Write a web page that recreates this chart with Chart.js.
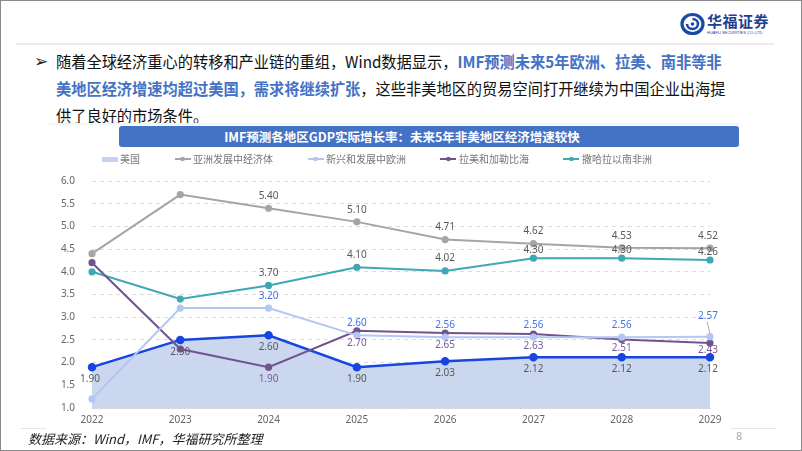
<!DOCTYPE html>
<html>
<head>
<meta charset="utf-8">
<script src="https://cdn.jsdelivr.net/npm/chart.js@4.4.1/dist/chart.umd.min.js"></script>
<style>
  html, body { margin: 0; padding: 0; background: #fff; }
  #page { position: relative; width: 802px; height: 451px; box-sizing: border-box; border: 1px solid #8a8a8a; overflow: hidden;
          font-family: "Noto Sans CJK SC", "Noto Sans", sans-serif; }
  .abs { position: absolute; }
  #rule { left: 15px; top: 42px; width: 758px; height: 2px; background: #ececec; }
  #bullet { left: 33px; top: 47px; font: 17px "DejaVu Sans"; line-height: 27px; color: #222; }
  #para { left: 55px; top: 47px; font-size: 16px; line-height: 27px; color: #111; white-space: nowrap;
          transform: scaleX(0.951); transform-origin: 0 0; }
  #para b { color: #4472c4; font-weight: bold; }
  #bar { left: 118px; top: 125px; width: 620px; height: 21px; background: #4472c4; border-radius: 3px; }
  #barText { left: 0; top: 125px; width: 802px; height: 21px; line-height: 21px; text-align: center; color: #fff; font-size: 12.5px; font-weight: bold; }
  #band { left: 48px; top: 122px; width: 690px; height: 2px; background: #eaf7fb; }
  #foot { left: 27px; top: 428px; font-size: 13px; font-style: italic; color: #222; }
  #pageNo { left: 735px; top: 427px; font: 11px "Noto Sans"; color: #aaa; }
  #footRuleL { left: 20px; top: 427px; width: 25px; height: 1px; background: #e6e6e6; }
  #footRuleR { left: 730px; top: 427px; width: 45px; height: 1px; background: #e6e6e6; }
  #logoText { left: 706px; top: 9px; font: bold 15px "Noto Sans CJK SC"; color: #1f3f8f; letter-spacing: 0.5px; }
  #logoSub { left: 706px; top: 29px; font: 4px "Liberation Sans"; color: #1f3f8f; white-space: nowrap; }
  #wrap { left: 45px; top: 110px; width: 712px; height: 320px; }
</style>
</head>
<body>
<div id="page">
  <svg class="abs" style="left:679px;top:11px" width="25" height="24" viewBox="0 0 25 24">
    <ellipse cx="12.5" cy="12" rx="10.5" ry="9.5" fill="none" stroke="#1a4aa8" stroke-width="3.2"/>
    <path d="M7 12 a5.5 5 0 1 0 5.5 -5" fill="none" stroke="#1a4aa8" stroke-width="2.6"/>
    <circle cx="12.5" cy="12" r="1.8" fill="#1a4aa8"/>
  </svg>
  <div id="logoText" class="abs">华福证券</div>
  <div id="logoSub" class="abs">HUAFU SECURITIES CO.,LTD</div>
  <div id="rule" class="abs"></div>
  <div id="bullet" class="abs">➢</div>
  <div id="para" class="abs">随着全球经济重心的转移和产业链的重组，Wind数据显示，<b>IMF预测未来5年欧洲、拉美、南非等非</b><br><b>美地区经济增速均超过美国，需求将继续扩张</b>，这些非美地区的贸易空间打开继续为中国企业出海提<br>供了良好的市场条件。</div>
  <div id="band" class="abs"></div>
  <div id="bar" class="abs"></div>
  <div id="barText" class="abs">IMF预测各地区GDP实际增长率：未来5年非美地区经济增速较快</div>
  <div id="footRuleL" class="abs"></div>
  <div id="footRuleR" class="abs"></div>
  <div id="wrap" class="abs"><canvas id="chart"></canvas></div>
  <div id="foot" class="abs">数据来源：Wind，IMF，华福研究所整理</div>
  <div id="pageNo" class="abs">8</div>
</div>
<script>
const years = ['2022', '2023', '2024', '2025', '2026', '2027', '2028', '2029'];

const usa      = [1.90, 2.50, 2.60, 1.90, 2.03, 2.12, 2.12, 2.12];
const asiaDev  = [4.40, 5.70, 5.40, 5.10, 4.71, 4.62, 4.53, 4.52];
const emEurope = [1.20, 3.20, 3.20, 2.60, 2.56, 2.56, 2.56, 2.57];
const latam    = [4.20, 2.30, 1.90, 2.70, 2.65, 2.63, 2.51, 2.43];
const ssAfrica = [4.00, 3.40, 3.70, 4.10, 4.02, 4.30, 4.30, 4.26];

// which points carry a value label in the original
const usaShown      = [1, 1, 1, 1, 1, 1, 1, 1];
const asiaShown     = [0, 0, 1, 1, 1, 1, 1, 1];
const europeShown   = [0, 0, 1, 1, 1, 1, 1, 1];
const latamShown    = [0, 0, 1, 1, 1, 1, 1, 1];
const africaShown   = [0, 0, 1, 1, 1, 1, 1, 1];

const yMin = 1.0, yMax = 6.0, yStep = 0.5;

// label placement (pixels from the point; negative = above)
const labelShift = {
  usa:    { dy: 12 },
  asia:   { dy: -12 },
  europe: { dy: -12, at: { 7: -21 } },
  latam:  { dy: 12, at: { 6: 9, 7: 7 } },
  africa: { dy: -12, at: { 4: -13, 5: -8, 6: -8, 7: -8 } }
};

function icon(color, kind) {
  const c = document.createElement('canvas');
  c.width = 16; c.height = 8;
  const g = c.getContext('2d');
  if (kind === 'box') {
    g.fillStyle = color;
    g.fillRect(0, 2, 16, 5);
  } else {
    g.strokeStyle = color; g.lineWidth = 2;
    g.beginPath(); g.moveTo(0, 4); g.lineTo(16, 4); g.stroke();
    g.fillStyle = color;
    g.beginPath(); g.arc(8, 4, 2.3, 0, Math.PI * 2); g.fill();
  }
  return c;
}

const valueLabels = {
  id: 'valueLabels',
  afterDatasetsDraw(chart) {
    const ctx = chart.ctx;
    ctx.save();
    ctx.font = '10px "Noto Sans"';
    ctx.textAlign = 'center';
    ctx.textBaseline = 'middle';
    chart.data.datasets.forEach((ds, i) => {
      const meta = chart.getDatasetMeta(i);
      const shift = labelShift[ds.key];
      meta.data.forEach((pt, j) => {
        if (!ds.shown[j]) return;
        const dy = (shift.at && shift.at[j] != null) ? shift.at[j] : shift.dy;
        let x = pt.x;
        if (j === 0) x -= 2;
        if (j === years.length - 1) x -= 2;
        if (Math.abs(dy) > 15) {
          ctx.strokeStyle = '#999'; ctx.lineWidth = 0.8;
          ctx.beginPath(); ctx.moveTo(x - 1, pt.y + dy + 6); ctx.lineTo(pt.x, pt.y - 3); ctx.stroke();
        }
        ctx.fillStyle = ds.labelColor;
        ctx.fillText(ds.data[j].toFixed(2), x, pt.y + dy);
      });
    });
    ctx.restore();
  }
};

const legendGap = {
  id: 'legendGap',
  beforeInit(chart) {
    const fit = chart.legend.fit;
    chart.legend.fit = function () { fit.call(this); this.height += 7; };
  }
};

const line = (key, label, data, color, shown, labelColor) => ({
  key, label, data, shown, labelColor,
  borderColor: color, backgroundColor: color,
  pointBackgroundColor: color, pointBorderColor: color,
  borderWidth: 2, pointRadius: 2.6, tension: 0, fill: false, order: 0,
  legendIcon: icon(color, 'line')
});

new Chart(document.getElementById('chart'), {
  type: 'line',
  data: {
    labels: years,
    datasets: [
      {
        key: 'usa', label: '美国', data: usa, shown: usaShown, labelColor: '#595959',
        borderColor: '#1745e0', backgroundColor: '#cbd7ee', pointBackgroundColor: '#1745e0', pointBorderColor: '#1745e0',
        borderWidth: 2.5, pointRadius: 3, fill: 'start', order: 1,
        legendIcon: icon('#c6d3ee', 'box')
      },
      line('asia', '亚洲发展中经济体', asiaDev, '#a5a5a5', asiaShown, '#595959'),
      line('europe', '新兴和发展中欧洲', emEurope, '#b4c6f2', europeShown, '#4472e0'),
      line('latam', '拉美和加勒比海', latam, '#71548f', latamShown, '#7b5a9e'),
      line('africa', '撒哈拉以南非洲', ssAfrica, '#3ea8b4', africaShown, '#595959')
    ]
  },
  options: {
    responsive: true,
    maintainAspectRatio: false,
    animation: false,
    layout: { padding: { top: 6, left: 0, right: 48, bottom: 0 } },
    plugins: {
      tooltip: { enabled: false },
      legend: {
        position: 'top',
        labels: {
          usePointStyle: true,
          pointStyleWidth: 11,
          padding: 37,
          color: '#777',
          font: { size: 10, family: '"Noto Sans CJK SC"' },
          generateLabels: chart => chart.data.datasets.map((ds, i) => ({
            text: ds.label,
            pointStyle: ds.legendIcon,
            fillStyle: 'transparent',
            strokeStyle: 'transparent',
            lineWidth: 0,
            fontColor: '#777',
            hidden: false,
            datasetIndex: i
          }))
        }
      }
    },
    scales: {
      x: {
        grid: { display: false, drawTicks: false },
        border: { color: '#d9d9d9' },
        ticks: { color: '#666', padding: 6, font: { size: 10, family: '"Noto Sans"' }, maxRotation: 0 },
        afterFit: s => { s.height = 22; }
      },
      y: {
        min: yMin, max: yMax,
        grid: { color: '#dcdcdc', lineWidth: 1, drawTicks: false },
        border: { display: false, dash: [4, 4] },
        ticks: { stepSize: yStep, padding: 17, color: '#666', font: { size: 10, family: '"Noto Sans"' },
                 callback: v => Number(v).toFixed(1) },
        afterFit: s => { s.width = 46; }
      }
    }
  },
  plugins: [valueLabels, legendGap]
});
</script>
</body>
</html>
